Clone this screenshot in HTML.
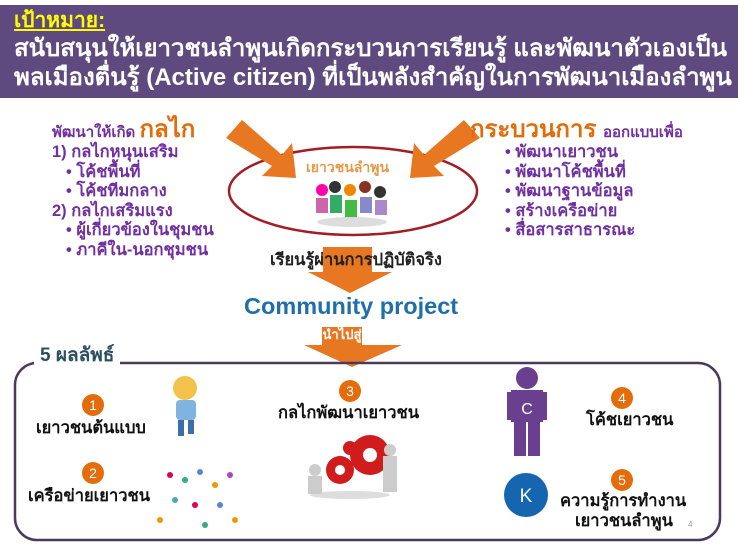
<!DOCTYPE html>
<html><head><meta charset="utf-8"><style>
*{margin:0;padding:0;box-sizing:border-box}
body{width:738px;height:554px;background:#fff;position:relative;overflow:hidden;font-family:"Liberation Sans","Noto Sans CJK SC",sans-serif}
.t{position:absolute;white-space:nowrap;font-weight:bold;line-height:1.2}
.p{color:#7030a0;font-size:16.5px}
.o{color:#e36c09}
.num{position:absolute;width:22px;height:22px;border-radius:50%;background:#e46c0a;color:#fff;font-size:14px;text-align:center;line-height:22px}
.blk{color:#111;font-size:16.5px}
</style></head><body>
<div style="position:absolute;left:0;top:5px;width:738px;height:93px;background:#5e4a7e"></div>
<div class="t" style="left:14px;top:8px;font-size:21px;color:#ffff00;text-decoration:underline">เป้าหมาย:</div>
<div class="t" style="left:14px;top:35px;font-size:24px;color:#fff">สนับสนุนให้เยาวชนลำพูนเกิดกระบวนการเรียนรู้ และพัฒนาตัวเองเป็น</div>
<div class="t" style="left:14px;top:64px;font-size:24px;color:#fff">พลเมืองตื่นรู้ (Active citizen) ที่เป็นพลังสำคัญในการพัฒนาเมืองลำพูน</div>

<svg width="738" height="554" style="position:absolute;left:0;top:0">
<ellipse cx="353" cy="191" rx="124" ry="44" fill="none" stroke="#a31d24" stroke-width="2.5"/>
<g fill="#e87722">
<polygon points="226,138 242,120 282,155 292,143 296,178 262,176 272,166"/>
<polygon points="480,138 464,120 424,155 414,143 410,178 444,176 434,166"/>
<polygon points="323,247 372,247 372,272 392,272 350,293 308,272 323,272"/>
<polygon points="322,327 362,327 362,345 402,345 352,367 304,345 322,345"/>
</g>
<rect x="15" y="363" width="705" height="177" rx="22" fill="none" stroke="#4a3a5e" stroke-width="2.5"/>
<circle cx="185" cy="388" r="12" fill="#f2c24a"/><rect x="176" y="400" width="20" height="20" rx="4" fill="#7fb3e0"/><rect x="178" y="420" width="6" height="16" fill="#3d6ea8"/><rect x="188" y="420" width="6" height="14" fill="#3d6ea8"/>
<g><circle cx="170" cy="475" r="3" fill="#d05"/><circle cx="185" cy="480" r="3" fill="#3a8"/><circle cx="200" cy="472" r="3" fill="#58c"/><circle cx="215" cy="485" r="3" fill="#e90"/><circle cx="230" cy="475" r="3" fill="#a4c"/><circle cx="175" cy="500" r="3" fill="#4ab"/><circle cx="195" cy="505" r="3" fill="#d05"/><circle cx="220" cy="505" r="3" fill="#58c"/><circle cx="160" cy="520" r="3" fill="#e90"/><circle cx="205" cy="525" r="3" fill="#3a8"/><circle cx="235" cy="520" r="3" fill="#e90"/></g>
<circle cx="370" cy="455" r="20" fill="#d01c1c"/><circle cx="370" cy="455" r="7" fill="#fff"/><circle cx="340" cy="470" r="14" fill="#d01c1c"/><circle cx="340" cy="470" r="5" fill="#fff"/><circle cx="350" cy="448" r="7" fill="#d01c1c"/>
<ellipse cx="350" cy="495" rx="40" ry="4" fill="#ddd"/>
<circle cx="315" cy="470" r="6" fill="#ccc"/><rect x="308" y="476" width="14" height="18" fill="#ccc"/><circle cx="390" cy="450" r="6" fill="#ccc"/><rect x="383" y="456" width="14" height="36" fill="#ccc"/>
<circle cx="527" cy="378" r="11" fill="#6b3f8f"/><rect x="511" y="390" width="32" height="32" fill="#6b3f8f"/><rect x="507" y="392" width="6" height="28" fill="#6b3f8f"/><rect x="541" y="392" width="6" height="28" fill="#6b3f8f"/><rect x="514" y="422" width="12" height="34" fill="#6b3f8f"/><rect x="528" y="422" width="12" height="34" fill="#6b3f8f"/>
<text x="527" y="414" fill="#fff" font-size="16" text-anchor="middle" font-family="Liberation Sans">C</text>
<circle cx="526" cy="495" r="22" fill="#1565b0"/>
<text x="526" y="502" fill="#fff" font-size="19" text-anchor="middle" font-family="Liberation Sans">K</text>
<g><circle cx="322" cy="190" r="6" fill="#f0a"/><circle cx="335" cy="187" r="6" fill="#333"/><circle cx="350" cy="190" r="6" fill="#e80"/><circle cx="365" cy="187" r="6" fill="#832"/><circle cx="380" cy="192" r="6" fill="#333"/><rect x="316" y="198" width="12" height="15" fill="#c6a"/><rect x="330" y="195" width="12" height="18" fill="#3a6"/><rect x="345" y="200" width="12" height="18" fill="#4b4"/><rect x="360" y="197" width="12" height="16" fill="#88c"/><rect x="375" y="200" width="12" height="15" fill="#a8c"/><ellipse cx="352" cy="222" rx="35" ry="5" fill="#ddd"/></g>
</svg>

<div class="t" style="left:52px;top:116px"><span class="p" style="font-size:15px">พัฒนาให้เกิด </span><span class="o" style="font-size:24px"> กลไก</span></div>
<div class="t p" style="left:52px;top:143px">1) กลไกหนุนเสริม</div>
<div class="t p" style="left:66px;top:163px">• โค้ชพื้นที่</div>
<div class="t p" style="left:66px;top:182px">• โค้ชทีมกลาง</div>
<div class="t p" style="left:52px;top:202px">2) กลไกเสริมแรง</div>
<div class="t p" style="left:66px;top:221px">• ผู้เกี่ยวข้องในชุมชน</div>
<div class="t p" style="left:66px;top:241px">• ภาคีใน-นอกชุมชน</div>

<div class="t" style="left:470px;top:116px"><span class="o" style="font-size:24px">กระบวนการ </span><span class="p" style="font-size:15px"> ออกแบบเพื่อ</span></div>
<div class="t p" style="left:505px;top:143px">• พัฒนาเยาวชน</div>
<div class="t p" style="left:505px;top:163px">• พัฒนาโค้ชพื้นที่</div>
<div class="t p" style="left:505px;top:182px">• พัฒนาฐานข้อมูล</div>
<div class="t p" style="left:505px;top:202px">• สร้างเครือข่าย</div>
<div class="t p" style="left:505px;top:221px">• สื่อสารสาธารณะ</div>

<div class="t o" style="left:306px;top:159px;font-size:14px;color:#e59a4a">เยาวชนลำพูน</div>
<div class="t" style="left:270px;top:251px;font-size:16.5px;color:#222">เรียนรู้ผ่านการปฏิบัติจริง</div>
<div class="t" style="left:244px;top:292px;font-size:23.5px;color:#1f6fa8">Community project</div>
<div class="t" style="left:320px;top:327px;font-size:13px;color:#fff;width:44px;text-align:center">นำไปสู่</div>

<div class="t" style="left:34px;top:345px;font-size:19px;color:#2b4f5f;background:#fff;padding:0 6px">5 ผลลัพธ์</div>

<div class="num" style="left:82px;top:394px">1</div>
<div class="t blk" style="left:36px;top:419px">เยาวชนต้นแบบ</div>
<div class="num" style="left:82px;top:462px">2</div>
<div class="t blk" style="left:28px;top:487px">เครือข่ายเยาวชน</div>
<div class="num" style="left:339px;top:380px">3</div>
<div class="t blk" style="left:278px;top:404px">กลไกพัฒนาเยาวชน</div>
<div class="num" style="left:611px;top:387px">4</div>
<div class="t blk" style="left:586px;top:411px">โค้ชเยาวชน</div>
<div class="num" style="left:611px;top:469px">5</div>
<div class="t blk" style="left:560px;top:492px">ความรู้การทำงาน</div>
<div class="t blk" style="left:575px;top:512px">เยาวชนลำพูน</div>
<div class="t" style="left:688px;top:520px;font-size:8px;color:#999;font-weight:normal">4</div>
</body></html>
